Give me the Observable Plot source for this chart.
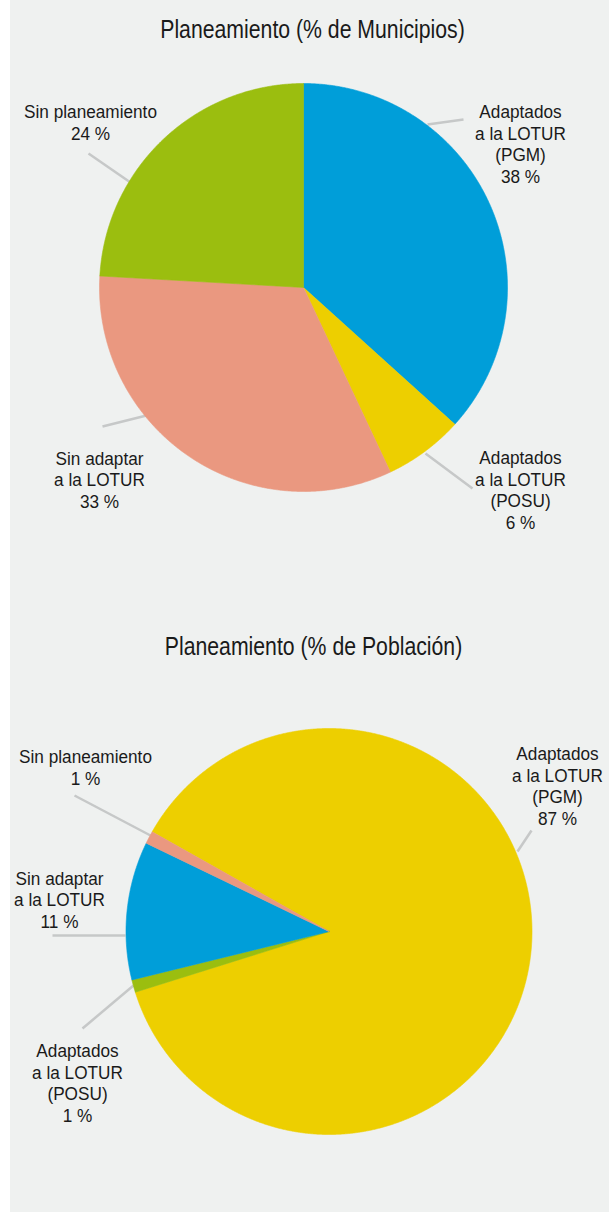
<!DOCTYPE html>
<html><head><meta charset="utf-8">
<script src="https://cdn.jsdelivr.net/npm/d3@7"></script>
<script src="https://cdn.jsdelivr.net/npm/@observablehq/plot@0.6"></script>
<style>
html,body{margin:0;padding:0;background:#ffffff;}
#panel{position:absolute;left:10px;top:0;width:599px;height:1212px;background:#eff1f0;}
#panel svg{display:block;}
</style></head><body><div id="panel"></div>
<script>
// ---- data ----
const categories = ["Adaptados a la LOTUR (PGM)", "Adaptados a la LOTUR (POSU)", "Sin adaptar a la LOTUR", "Sin planeamiento"];
const categoryLabels = ["Adaptados\na la LOTUR\n(PGM)", "Adaptados\na la LOTUR\n(POSU)", "Sin adaptar\na la LOTUR", "Sin planeamiento"];
const municipiosValues = [36.7, 6.3, 32.9, 24.1];
const municipiosLabels = ["38 %", "6 %", "33 %", "24 %"];
const poblacionValues = [87, 1, 11, 1];
const poblacionLabels = ["87 %", "1 %", "11 %", "1 %"];
const municipiosColors = ["#009ed9", "#edcf00", "#ea9880", "#9bbe0f"];
const poblacionColors = ["#edcf00", "#9bbe0f", "#009ed9", "#ea9880"];
const titles = ["Planeamiento (% de Municipios)", "Planeamiento (% de Población)"];

// ---- layout (page pixel coordinates) ----
const FONT = "'Liberation Sans', Arial, sans-serif";
const LABEL_SIZE = 18.5, LABEL_SX = 0.93, LINE_PX = 21.5;
const TITLE_SIZE = 25, TITLE_SX = 0.85;
const layouts = [
  {y0: 0, y1: 606, cx: 303, cy: 287, r: 204, start: 0, titleX: 312, titleY: 37,
   values: municipiosValues, pct: municipiosLabels, colors: municipiosColors, title: titles[0],
   labelPos: [[520, 182], [520, 528], [99, 507], [90, 139]],
   leaders: [[427, 124, 463, 119], [425, 453, 472, 488], [146, 415, 102, 426], [130, 182, 88, 153]]},
  {y0: 606, y1: 1212, cx: 328.5, cy: 931, r: 203, start: 299.4, titleX: 313, titleY: 654,
   values: poblacionValues, pct: poblacionLabels, colors: poblacionColors, title: titles[1],
   labelPos: [[557, 824], [77, 1121], [59, 927], [85, 784]],
   leaders: [[517, 851, 531, 830], [133, 985, 82, 1028], [125, 935, 52, 935], [150, 835, 74, 795]]}
];

const panel = document.getElementById("panel");

function condense(svg, size, sx) {
  svg.querySelectorAll(`g[font-size="${size}"] text`).forEach(t => {
    t.setAttribute("transform", (t.getAttribute("transform") || "") + ` scale(${sx},1)`);
  });
}

for (const L of layouts) {
  const rows = categories.map((c, i) => ({category: c, value: L.values[i]}));
  const a0 = L.start * Math.PI / 180;
  const arcs = d3.pie().value(d => d.value).sort(null).startAngle(a0).endAngle(a0 + 2 * Math.PI)(rows);
  const points = [];
  for (const a of arcs) {
    const cat = a.data.category;
    points.push({category: cat, x: L.cx, y: L.cy});
    const n = Math.max(2, Math.ceil((a.endAngle - a.startAngle) / (0.25 * Math.PI / 180)));
    for (let k = 0; k <= n; ++k) {
      const t = a.startAngle + (a.endAngle - a.startAngle) * k / n;
      points.push({category: cat, x: L.cx + L.r * Math.sin(t), y: L.cy - L.r * Math.cos(t)});
    }
    points.push({category: cat, x: L.cx, y: L.cy});
  }
  const labels = categories.map((c, i) => ({
    text: categoryLabels[i] + "\n" + L.pct[i], x: L.labelPos[i][0], y: L.labelPos[i][1]
  }));
  const leaders = L.leaders.map(([x1, y1, x2, y2]) => ({x1, y1, x2, y2}));

  const chart = Plot.plot({
    width: 599, height: 606, margin: 0,
    x: {domain: [10, 609], range: [0, 599], axis: null},
    y: {domain: [L.y0, L.y1], range: [0, 606], axis: null},
    color: {domain: categories, range: L.colors},
    style: {background: "transparent", fontFamily: FONT, overflow: "visible"},
    marks: [
      Plot.link(leaders, {x1: "x1", y1: "y1", x2: "x2", y2: "y2", stroke: "#c6c8c8", strokeWidth: 2.5}),
      Plot.line(points, {x: "x", y: "y", z: "category", fill: "category", stroke: "category", strokeWidth: 0.6, curve: "linear"}),
      Plot.text(labels, {x: "x", y: "y", text: "text", lineAnchor: "bottom", textAnchor: "middle",
        fontSize: LABEL_SIZE, lineHeight: LINE_PX / LABEL_SIZE, fill: "#1a1a1a", fontFamily: FONT}),
      Plot.text([L.title], {x: () => L.titleX, y: () => L.titleY, text: d => d, lineAnchor: "bottom",
        textAnchor: "middle", fontSize: TITLE_SIZE, fill: "#1a1a1a", fontFamily: FONT})
    ]
  });
  condense(chart, LABEL_SIZE, LABEL_SX);
  condense(chart, TITLE_SIZE, TITLE_SX);
  panel.appendChild(chart);
}
</script></body></html>
